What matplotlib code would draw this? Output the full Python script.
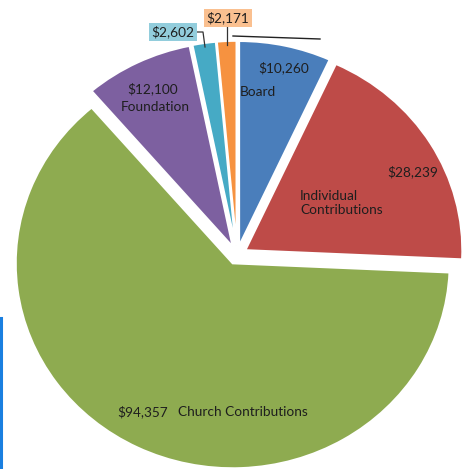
import matplotlib.pyplot as plt
from matplotlib.lines import Line2D

W, H = 465, 469

amounts = [10260, 28239, 94357, 12100, 2602, 2171]
names = ["Board", "Individual\nContributions", "Church Contributions", "Foundation", "", ""]
value_labels = ["$10,260", "$28,239", "$94,357", "$12,100", "$2,602", "$2,171"]
colors = ["#4a7ebb", "#be4b48", "#8eab50", "#7d60a0", "#46aac5", "#f69240"]

plt.rcParams["font.family"] = ["Lato", "DejaVu Sans"]


def fxy(x, y):
    # pixel position (from top-left) -> figure fraction
    return x / W, 1 - y / H


fig = plt.figure(figsize=(W / 100, H / 100), dpi=100)
ax = fig.add_axes([0, 0, 1, 1])
ax.pie(
    amounts,
    colors=colors,
    startangle=90,
    counterclock=False,
    explode=[0.045] * len(amounts),
    wedgeprops=dict(edgecolor="white", linewidth=1.5),
)
# the source chart is slightly stretched horizontally
cx, cy, rx, ry = 237, 255, 217, 205
ax.set_aspect("auto")
ax.set_xlim(-cx / rx, (W - cx) / rx)
ax.set_ylim(-(H - cy) / ry, cy / ry)
ax.axis("off")

fs = 9.8
txt = dict(fontsize=fs, color="#1e1e1e", va="center")
fig.text(*fxy(258, 68), value_labels[0], **txt)
fig.text(*fxy(240, 92), names[0], **txt)
fig.text(*fxy(387, 172), value_labels[1], **txt)
fig.text(*fxy(300, 203), names[1], linespacing=1.3, **txt)
fig.text(*fxy(117, 412), value_labels[2], **txt)
fig.text(*fxy(178, 412), names[2], **txt)
fig.text(*fxy(127, 89), value_labels[3], **txt)
fig.text(*fxy(121, 107), names[3], **txt)

# boxed callouts for the two small slices
fig.text(*fxy(173, 32), value_labels[4], ha="center", fontsize=fs, color="#1e1e1e", va="center",
         bbox=dict(boxstyle="square,pad=0.22", fc="#92cddc", ec="none"))
fig.text(*fxy(228, 18), value_labels[5], ha="center", fontsize=fs, color="#1e1e1e", va="center",
         bbox=dict(boxstyle="square,pad=0.22", fc="#fac090", ec="none"))

lines = [
    ([196, 203, 205], [32, 32, 47], "#333333", 0.9),
    ([227, 227], [26, 45], "#333333", 0.9),
    ([233, 320], [36, 39], "#222222", 1.0),
    ([1, 1], [318, 469], "#1a7fe0", 2.2),
]
for xs, ys, c, lw in lines:
    fig.add_artist(Line2D([x / W for x in xs], [1 - y / H for y in ys], color=c, lw=lw,
                          transform=fig.transFigure))

fig.savefig("out.png", dpi=100)
